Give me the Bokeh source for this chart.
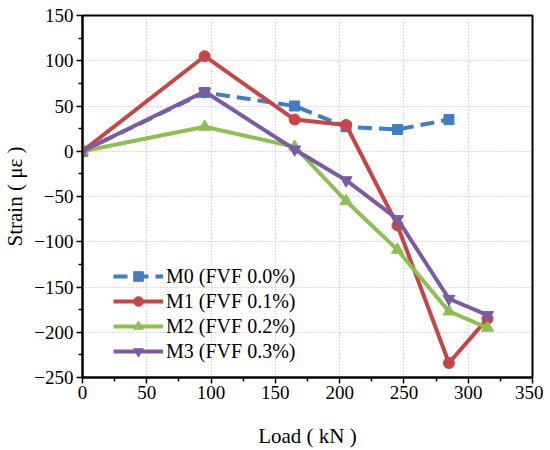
from bokeh.plotting import figure
from bokeh.models import Legend, LegendItem, FixedTicker, Range1d
from bokeh.embed import file_html
from bokeh.resources import INLINE

load = [0, 95, 165, 205, 245, 285, 315]
m0_load = [0, 95, 165, 205, 245, 285]
m0 = [0, 65, 50, 27, 24, 35]
m1 = [0, 105, 35, 29, -82, -234, -185]
m2 = [0, 27, 5, -55, -109, -177, -195]
m3 = [0, 66, 2, -32, -75, -163, -181]

names = ["M0 (FVF 0.0%)", "M1 (FVF 0.1%)", "M2 (FVF 0.2%)", "M3 (FVF 0.3%)"]
colors = ["#3F7DC4", "#C94545", "#8DBF52", "#7B5AA6"]

x_ticks = [0, 50, 100, 150, 200, 250, 300, 350]
y_ticks = [-250, -200, -150, -100, -50, 0, 50, 100, 150]

FONT = "Liberation Serif"

p = figure(frame_width=450, frame_height=362, output_backend="svg", toolbar_location=None,
           x_range=Range1d(0, 350), y_range=Range1d(-250, 150),
           min_border_left=73, min_border_top=15, min_border_right=11, min_border_bottom=60)

p.outline_line_color = "black"
p.outline_line_width = 2
p.outline_line_alpha = 1

for ax in (p.xaxis[0], p.yaxis[0]):
    ax.axis_line_width = 2
    ax.axis_line_color = "black"
    ax.major_tick_line_width = 1.5
    ax.minor_tick_line_width = 1.5
    ax.major_tick_out = 6
    ax.major_tick_in = 0
    ax.minor_tick_out = 4
    ax.minor_tick_in = 0
    ax.major_label_text_font = FONT
    ax.major_label_text_font_size = "19px"
    ax.major_label_text_color = "black"
    ax.axis_label_text_font = FONT
    ax.axis_label_text_font_size = "21px"
    ax.axis_label_text_font_style = "normal"
    ax.axis_label_text_color = "black"

p.xaxis.ticker = FixedTicker(ticks=x_ticks, minor_ticks=[25, 75, 125, 175, 225, 275, 325])
p.yaxis.ticker = FixedTicker(ticks=y_ticks, minor_ticks=[-225, -175, -125, -75, -25, 25, 75, 125])
p.yaxis.major_label_overrides = {t: (str(t).replace("-", "\u2212")) for t in y_ticks}
p.xaxis.axis_label = "Load ( kN )"
p.yaxis.axis_label = "Strain ( \u03bc\u03b5 )"
p.xaxis.major_label_standoff = 2
p.yaxis.major_label_standoff = 3
p.xaxis.axis_label_standoff = 22
p.yaxis.axis_label_standoff = 4

for g in (p.xgrid[0], p.ygrid[0]):
    g.grid_line_color = "#b8b8b8"
    g.grid_line_dash = "1 2"
    g.grid_line_width = 1

lw = 4
r0l = p.line(m0_load, m0, line_color=colors[0], line_width=lw, line_dash="14 7")
r0m = p.scatter(m0_load, m0, marker="square", size=10, color=colors[0])
r1l = p.line(load, m1, line_color=colors[1], line_width=lw)
r1m = p.scatter(load, m1, marker="circle", size=11, color=colors[1])
r2l = p.line(load, m2, line_color=colors[2], line_width=lw)
r2m = p.scatter(load, m2, marker="triangle", size=12, color=colors[2])
r3l = p.line(load, m3, line_color=colors[3], line_width=lw)
r3m = p.scatter(load, m3, marker="inverted_triangle", size=12, color=colors[3])

legend = Legend(items=[
    LegendItem(label=names[0], renderers=[r0l, r0m]),
    LegendItem(label=names[1], renderers=[r1l, r1m]),
    LegendItem(label=names[2], renderers=[r2l, r2m]),
    LegendItem(label=names[3], renderers=[r3l, r3m]),
], location=(31, 14))
legend.background_fill_alpha = 0
legend.border_line_alpha = 0
legend.padding = 0
legend.margin = 0
legend.spacing = 1
legend.glyph_width = 50
legend.glyph_height = 24
legend.label_height = 24
legend.label_standoff = 3
legend.label_text_font = FONT
legend.label_text_font_size = "20px"
legend.label_text_color = "black"
p.add_layout(legend, "center")

open("out.html", "w").write(file_html(p, INLINE))
